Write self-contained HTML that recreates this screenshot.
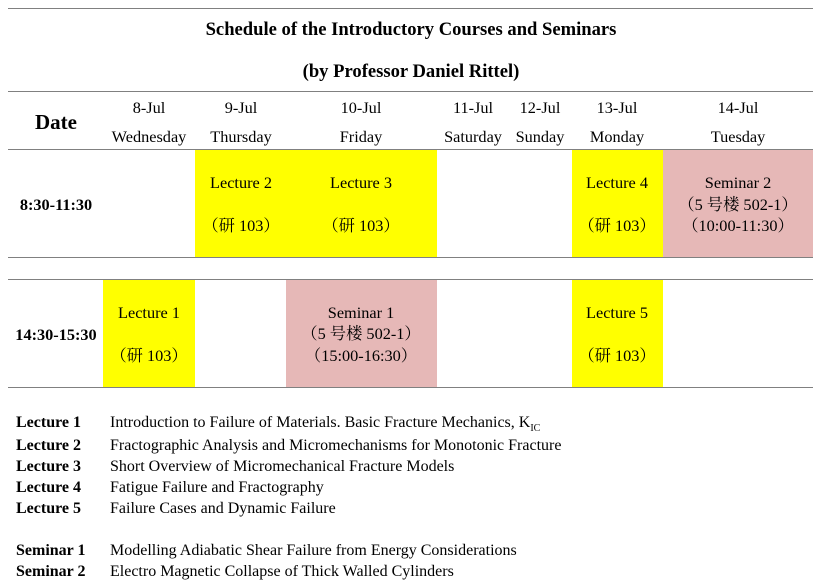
<!DOCTYPE html>
<html><head><meta charset="utf-8"><style>
body{margin:0;width:827px;height:584px;background:#fff;position:relative;overflow:hidden;font-family:"Liberation Serif","Noto Serif CJK SC",serif;color:#000;}
.h{position:absolute;left:8px;width:805px;height:1px;background:#808080;}
.c{position:absolute;text-align:center;font-size:16.3px;line-height:18px;white-space:nowrap;transform:translateX(-50%);}
.b{font-weight:bold;}
.y{position:absolute;background:#ffff00;}
.p{position:absolute;background:#e6b8b7;}
.l{position:absolute;font-size:16px;line-height:18px;white-space:nowrap;}
</style></head><body>
<div class="h" style="top:8px"></div>
<div class="c b" style="left:411px;top:21px;font-size:18.6px">Schedule of the Introductory Courses and Seminars</div>
<div class="c b" style="left:411px;top:63px;font-size:18.6px">(by Professor Daniel Rittel)</div>
<div class="h" style="top:91px"></div>
<div class="c b" style="left:56px;top:111px;font-size:21px;line-height:22px">Date</div>
<div class="c" style="left:149px;top:99px">8-Jul</div><div class="c" style="left:149px;top:128px">Wednesday</div>
<div class="c" style="left:241px;top:99px">9-Jul</div><div class="c" style="left:241px;top:128px">Thursday</div>
<div class="c" style="left:361px;top:99px">10-Jul</div><div class="c" style="left:361px;top:128px">Friday</div>
<div class="c" style="left:473px;top:99px">11-Jul</div><div class="c" style="left:473px;top:128px">Saturday</div>
<div class="c" style="left:540px;top:99px">12-Jul</div><div class="c" style="left:540px;top:128px">Sunday</div>
<div class="c" style="left:617px;top:99px">13-Jul</div><div class="c" style="left:617px;top:128px">Monday</div>
<div class="c" style="left:738px;top:99px">14-Jul</div><div class="c" style="left:738px;top:128px">Tuesday</div>

<div class="y" style="left:195px;top:150px;width:242px;height:107px"></div>
<div class="y" style="left:572px;top:150px;width:91px;height:107px"></div>
<div class="p" style="left:663px;top:150px;width:150px;height:107px"></div>
<div class="h" style="top:149px"></div>
<div class="c b" style="left:56px;top:196px">8:30-11:30</div>
<div class="c" style="left:241px;top:174px">Lecture 2</div><div class="c" style="left:241px;top:217px">（研 103）</div>
<div class="c" style="left:361px;top:174px">Lecture 3</div><div class="c" style="left:361px;top:217px">（研 103）</div>
<div class="c" style="left:617px;top:174px">Lecture 4</div><div class="c" style="left:617px;top:217px">（研 103）</div>
<div class="c" style="left:738px;top:174px">Seminar 2</div><div class="c" style="left:738px;top:196px">（5 号楼 502-1）</div><div class="c" style="left:738px;top:217px">（10:00-11:30）</div>
<div class="h" style="top:257px"></div>

<div class="y" style="left:103px;top:280px;width:92px;height:107px"></div>
<div class="p" style="left:286px;top:280px;width:151px;height:107px"></div>
<div class="y" style="left:572px;top:280px;width:91px;height:107px"></div>
<div class="h" style="top:279px"></div>
<div class="c b" style="left:56px;top:326px">14:30-15:30</div>
<div class="c" style="left:149px;top:304px">Lecture 1</div><div class="c" style="left:149px;top:347px">（研 103）</div>
<div class="c" style="left:361px;top:304px">Seminar 1</div><div class="c" style="left:361px;top:325px">（5 号楼 502-1）</div><div class="c" style="left:361px;top:347px">（15:00-16:30）</div>
<div class="c" style="left:617px;top:304px">Lecture 5</div><div class="c" style="left:617px;top:347px">（研 103）</div>
<div class="h" style="top:387px"></div>

<div class="l b" style="left:16px;top:414px">Lecture 1</div><div class="l" style="left:110px;top:414px">Introduction to Failure of Materials. Basic Fracture Mechanics, K<sub style="font-size:10px">IC</sub></div>
<div class="l b" style="left:16px;top:437px">Lecture 2</div><div class="l" style="left:110px;top:437px">Fractographic Analysis and Micromechanisms for Monotonic Fracture</div>
<div class="l b" style="left:16px;top:458px">Lecture 3</div><div class="l" style="left:110px;top:458px">Short Overview of Micromechanical Fracture Models</div>
<div class="l b" style="left:16px;top:479px">Lecture 4</div><div class="l" style="left:110px;top:479px">Fatigue Failure and Fractography</div>
<div class="l b" style="left:16px;top:500px">Lecture 5</div><div class="l" style="left:110px;top:500px">Failure Cases and Dynamic Failure</div>
<div class="l b" style="left:16px;top:542px">Seminar 1</div><div class="l" style="left:110px;top:542px">Modelling Adiabatic Shear Failure from Energy Considerations</div>
<div class="l b" style="left:16px;top:563px">Seminar 2</div><div class="l" style="left:110px;top:563px">Electro Magnetic Collapse of Thick Walled Cylinders</div>
</body></html>
